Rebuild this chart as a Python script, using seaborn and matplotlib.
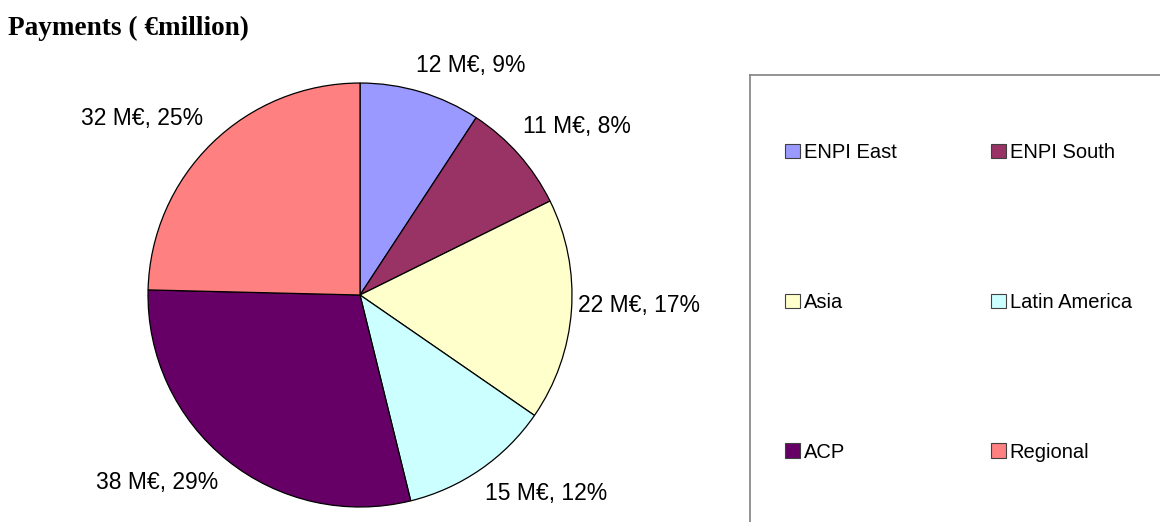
import matplotlib.pyplot as plt
import seaborn as sns
from matplotlib.patches import Patch

sns.set_theme(style="white")
plt.rcParams['font.family'] = ['Liberation Sans', 'DejaVu Sans']

# dados
regioes = ['ENPI East', 'ENPI South', 'Asia', 'Latin America', 'ACP', 'Regional']
pagamentos = [12, 11, 22, 15, 38, 32]
percentuais = [9, 8, 17, 12, 29, 25]
cores = ['#9999FF', '#993366', '#FFFFCC', '#CCFFFF', '#660066', '#FF8080']

rotulos = [f"{v} M€, {p}%" for v, p in zip(pagamentos, percentuais)]

# pequenos ajustes dos rótulos (em pixels, como o Excel posiciona)
ajuste_rotulos = [(-11, -6), (-12, -14), (-15, -6), (-7, 7), (4, 6), (6, -10)]
raio_px = 212

fig = plt.figure(figsize=(11.6, 5.22), dpi=100)
ax = fig.add_axes([0.1276, 0.0287, 0.3655, 0.8123])

wedges, textos = ax.pie(pagamentos, labels=rotulos, colors=cores, startangle=90,
                        counterclock=False, labeldistance=1.1,
                        wedgeprops={'edgecolor': 'black', 'linewidth': 0.9},
                        textprops={'fontsize': 16.5, 'color': 'black'})
for t, (dx, dy) in zip(textos, ajuste_rotulos):
    x, y = t.get_position()
    t.set_position((x + dx / raio_px, y - dy / raio_px))
    t.set_clip_on(False)
ax.set_xlim(-1, 1)
ax.set_ylim(-1, 1)
ax.set_aspect('equal')
ax.axis('off')

fig.text(0.007, 0.945, 'Payments ( €million)', fontsize=19.6, fontweight='bold',
         color='black', family=['Liberation Serif', 'DejaVu Serif'],
         va='center', ha='left')

# caixa da legenda
legax = fig.add_axes([750 / 1160, -0.02, 0.36, 1 - 75 / 522 + 0.02])
legax.set_xticks([])
legax.set_yticks([])
for lado in ['left', 'top']:
    legax.spines[lado].set_color('#808080')
    legax.spines[lado].set_linewidth(1.2)
for lado in ['right', 'bottom']:
    legax.spines[lado].set_visible(False)
legax.patch.set_alpha(0)

# ordem por linhas, como no Excel
ordem = [0, 2, 4, 1, 3, 5]
handles = [Patch(facecolor=cores[i], edgecolor='#404040', linewidth=0.8) for i in ordem]
nomes = [regioes[i] for i in ordem]
leg = fig.legend(handles, nomes, ncol=2, loc='upper left',
                 bbox_to_anchor=(775 / 1160, 1 - 133 / 522), frameon=False,
                 fontsize=14.5, labelcolor='black', handlelength=0.75,
                 handleheight=0.75, handletextpad=0.2, columnspacing=4.65,
                 labelspacing=6.5, borderpad=0)

fig.savefig('out.png', dpi=100)
